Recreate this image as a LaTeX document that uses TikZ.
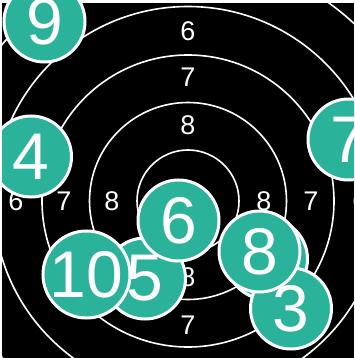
\documentclass[tikz,border=0pt]{standalone}
\usepackage{fontspec}
\setmainfont{Liberation Sans}
\definecolor{shot}{RGB}{42,178,155}
\tikzset{
  ring/.style={draw=white, line width=1.6pt},
  ringlabel/.style={text=white, inner sep=0pt, font=\fontsize{27}{27}\selectfont},
  hole/.style={circle, fill=shot, draw=white, line width=3pt, minimum size=81pt, inner sep=0pt,
    text=white, font=\fontsize{66}{66}\selectfont},
}
\begin{document}
\begin{tikzpicture}[x=1pt,y=-1pt]
\useasboundingbox (0,0) rectangle (354,358);
\fill[white] (0,0) rectangle (354,358);
\begin{scope}
\clip (2,0) rectangle (354,358);
\fill[black] (2,3) rectangle (354,358);
\coordinate (c) at (188,201);
\foreach \r in {51,98.5,146,194.5,243} \draw[ring] (c) circle[radius=\r];
% ring labels
\node[ringlabel] (t6) at (188,31) {6};
\node[ringlabel] (t7) at (188,77) {7};
\node[ringlabel] (t8) at (188,125) {8};
\node[ringlabel] (b8) at (188,277) {8};
\node[ringlabel] (b7) at (188,325) {7};
\node[ringlabel] (l6) at (16,201) {6};
\node[ringlabel] (l7) at (64,201) {7};
\node[ringlabel] (l8) at (112,201) {8};
\node[ringlabel] (r8) at (264,201) {8};
\node[ringlabel] (r7) at (311,201) {7};
\node[ringlabel] (r6) at (360,201) {6};
% shots
\node[hole] (s9) at (44.5,21.5) {9};
\node[hole] (s4) at (31,156.5) {4};
\node[hole] (s7) at (348.5,139.5) {7};
\node[hole] (sx) at (267,259) {};
\node[hole] (s3) at (291,308.5) {3};
\node[hole] (s8) at (259.5,251.5) {8};
\node[hole] (s5) at (145,278.5) {5};
\node[hole] (s10) at (86.5,274.5) {10};
\node[hole] (s6) at (178.5,220.5) {6};
\end{scope}
\end{tikzpicture}
\end{document}
